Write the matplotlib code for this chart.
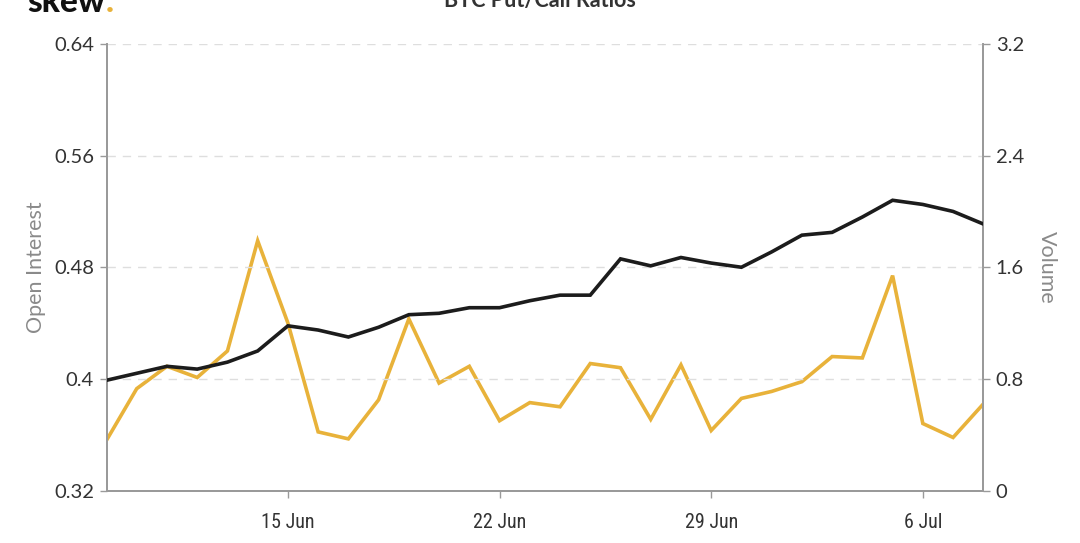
import matplotlib
matplotlib.use("Agg")
import matplotlib.pyplot as plt
import pandas as pd
from matplotlib import font_manager

# Daily put/call ratios, 9 Jun - 8 Jul
dates = pd.date_range("2020-06-09", "2020-07-08", freq="D")

open_interest = [
    0.399, 0.404, 0.409, 0.407, 0.412, 0.420, 0.438, 0.435, 0.430, 0.437,
    0.446, 0.447, 0.451, 0.451, 0.456, 0.460, 0.460, 0.486, 0.481, 0.487,
    0.483, 0.480, 0.491, 0.503, 0.505, 0.516, 0.528, 0.525, 0.520, 0.511,
]

volume = [
    0.36, 0.73, 0.89, 0.81, 1.00, 1.79, 1.20, 0.42, 0.37, 0.65,
    1.23, 0.77, 0.89, 0.50, 0.63, 0.60, 0.91, 0.88, 0.51, 0.90,
    0.43, 0.66, 0.71, 0.78, 0.96, 0.95, 1.54, 0.48, 0.38, 0.62,
]

oi_ticks = [0.32, 0.40, 0.48, 0.56, 0.64]
oi_tick_labels = ["0.32", "0.4", "0.48", "0.56", "0.64"]
vol_ticks = [0, 0.8, 1.6, 2.4, 3.2]
vol_tick_labels = ["0", "0.8", "1.6", "2.4", "3.2"]
date_ticks = pd.to_datetime(["2020-06-15", "2020-06-22", "2020-06-29", "2020-07-06"])
date_tick_labels = ["15 Jun", "22 Jun", "29 Jun", "6 Jul"]

BLACK = "#1c1c1c"
GOLD = "#e8b23a"
SPINE = "#9a9a9a"
LABEL = "#8a8a8a"
TEXT = "#333333"

plt.rcParams["font.family"] = ["Lato", "DejaVu Sans"]

# a narrow face for the date labels, if one is installed
installed = {f.name for f in font_manager.fontManager.ttflist}
narrow = [n for n in ("Liberation Sans Narrow", "Roboto Condensed", "Open Sans Condensed")
          if n in installed]
date_family = narrow + ["Lato"]

fig = plt.figure(figsize=(10.8, 5.43), dpi=100)
ax = fig.add_axes([106.5 / 1080, 1 - 490.5 / 543, (983.3 - 106.5) / 1080, (490.5 - 44) / 543])
ax2 = ax.twinx()

# horizontal dashed grid
for t in oi_ticks[1:]:
    ax.axhline(t, color="#dedede", lw=1.0, ls=(0, (6, 5)), zorder=0)

ax.plot(dates, open_interest, color=BLACK, lw=2.6, solid_joinstyle="miter", zorder=3)
ax2.plot(dates, volume, color=GOLD, lw=2.6, solid_joinstyle="miter", zorder=2)
ax.set_zorder(ax2.get_zorder() + 1)
ax.patch.set_visible(False)

ax.set_xlim(dates[0], dates[-1])
ax.set_ylim(0.32, 0.64)
ax2.set_ylim(0, 3.2)

ax.set_yticks(oi_ticks)
ax.set_yticklabels(oi_tick_labels)
ax2.set_yticks(vol_ticks)
ax2.set_yticklabels(vol_tick_labels)
ax.set_xticks(date_ticks)
ax.set_xticklabels(date_tick_labels, family=date_family)

for a in (ax, ax2):
    a.spines["top"].set_visible(False)
    for side in ("left", "right", "bottom"):
        a.spines[side].set_color(SPINE)
        a.spines[side].set_linewidth(1.3)
    a.tick_params(axis="y", colors=SPINE, labelcolor=TEXT, labelsize=14.5, length=5, width=1.0, pad=4)
ax.tick_params(axis="x", colors=SPINE, labelcolor=TEXT, labelsize=14.5, length=5, width=1.0, pad=11)

ax.set_ylabel("Open Interest", color=LABEL, fontsize=15.5, labelpad=6)
ax2.set_ylabel("Volume", color=LABEL, fontsize=15.5, rotation=270, labelpad=24)

fig.text(0.5, 1 - 7 / 543, "BTC Put/Call Ratios", ha="center", va="baseline",
         fontsize=15.5, fontweight="bold", color=TEXT)

# brand mark: black word followed by a gold dot
logo = fig.text(27 / 1080, 1 - 12 / 543, "skew", ha="left", va="baseline",
                fontsize=24, fontweight="black", color="#111111")
fig.canvas.draw()
bb = logo.get_window_extent()
fig.text((bb.x1 + 1) / 1080, 1 - 12 / 543, ".", ha="left", va="baseline",
         fontsize=24, fontweight="black", color=GOLD)

fig.savefig("out.png", dpi=100, facecolor="white")
